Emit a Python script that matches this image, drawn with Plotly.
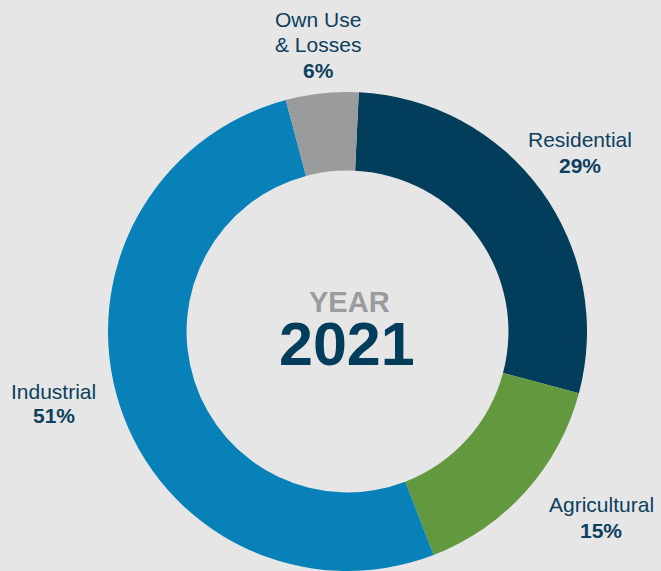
import plotly.graph_objects as go

categories = ["Residential", "Agricultural", "Industrial", "Own Use<br>& Losses"]
shares = [28.4, 15.0, 51.7, 4.9]
pct_labels = ["29%", "15%", "51%", "6%"]
colors = ["#023d5b", "#62993f", "#0781b8", "#9a9b9c"]
center_top = "YEAR"
center_year = "2021"

W, H = 661, 571
MT, MB = 92, 0
PH = H - MT - MB

def py(ypx):
    return (H - MB - ypx) / PH

def px(xpx):
    return xpx / W

R = PH / 2
CX = 347.5
fig = go.Figure(go.Pie(
    labels=categories, values=shares, sort=False, direction="clockwise",
    rotation=2.7, hole=0.672, textinfo="none", hoverinfo="label+percent",
    marker=dict(colors=colors, line=dict(width=0)),
    domain=dict(x=[(CX - R) / W, (CX + R) / W], y=[0, 1]),
    showlegend=False,
))

# (x centre, y of each category line..., y of percent)
label_pos = [(580, [139], 165), (601, [504], 530), (54, [391], 416), (318, [19, 45], 71)]
font_family = "Liberation Sans, Arial, sans-serif"
ann = []
for cat, pct, (x, ys, y2) in zip(categories, pct_labels, label_pos):
    for line, y1 in zip(cat.split("<br>"), ys):
        ann.append(dict(x=px(x), y=py(y1), xref="paper", yref="paper", text=line,
                        showarrow=False, xanchor="center", yanchor="middle",
                        font=dict(family=font_family, size=21, color="#0d405f")))
    ann.append(dict(x=px(x), y=py(y2), xref="paper", yref="paper", text="<b>" + pct + "</b>",
                    showarrow=False, xanchor="center", yanchor="middle",
                    font=dict(family=font_family, size=21, color="#0d405f")))
ann.append(dict(x=px(350), y=py(302), xref="paper", yref="paper", text="<b>" + center_top + "</b>",
                showarrow=False, xanchor="center", yanchor="middle",
                font=dict(family=font_family, size=29, color="#9a9b9c")))
ann.append(dict(x=px(347), y=py(344), xref="paper", yref="paper", text="<b>" + center_year + "</b>",
                showarrow=False, xanchor="center", yanchor="middle",
                font=dict(family=font_family, size=61, color="#023d5b")))

fig.update_layout(
    width=W, height=H, margin=dict(l=0, r=0, t=MT, b=MB),
    paper_bgcolor="#e6e6e6", plot_bgcolor="#e6e6e6",
    annotations=ann,
)
fig.write_html("out.html", config={"displayModeBar": False},
               post_script="document.body.style.margin='0';")
